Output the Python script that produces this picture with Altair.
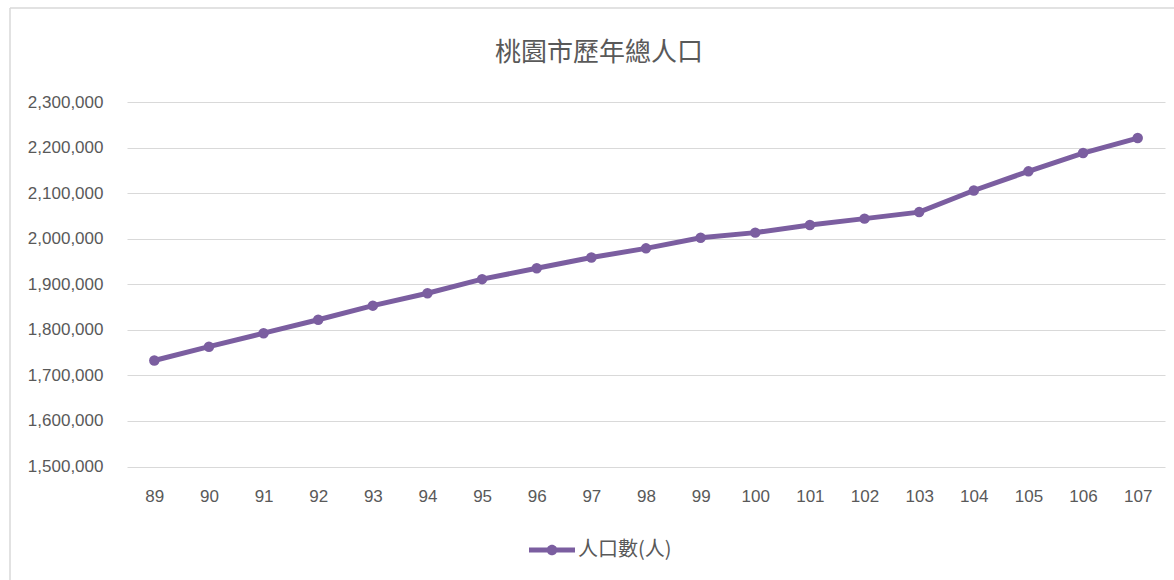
import altair as alt
import pandas as pd

years = ["89", "90", "91", "92", "93", "94", "95", "96", "97", "98",
         "99", "100", "101", "102", "103", "104", "105", "106", "107"]
population = [1732617, 1762963, 1792603, 1822075, 1853029, 1880316, 1911161,
              1934968, 1958686, 1978782, 2002060, 2013305, 2030161, 2044023,
              2058328, 2105780, 2147763, 2188017, 2220872]
series_name = "人口數(人)"
title_text = "桃園市歷年總人口"

df = pd.DataFrame({"year": years, "pop": population, "series": series_name})

PURPLE = "#7B5EA0"
GRAY = "#595959"
GRID = "#D9D9D9"
CJK = "Noto Sans CJK TC"
NUM = "Liberation Sans"

x = alt.X("year:N", sort=years, title=None,
          scale=alt.Scale(type="point", padding=0.5),
          axis=alt.Axis(labelAngle=0, labelFont=NUM, labelFontSize=17,
                        labelColor=GRAY, labelPadding=22, ticks=False,
                        tickSize=0, domain=False, grid=False))
y = alt.Y("pop:Q", title=None,
          scale=alt.Scale(domain=[1500000, 2300000], nice=False, zero=False),
          axis=alt.Axis(values=list(range(1500000, 2300001, 100000)), format=",d",
                        labelFont=NUM, labelFontSize=17, labelColor=GRAY,
                        labelPadding=24, ticks=False, tickSize=0, domain=False,
                        grid=True, gridColor=GRID, gridWidth=1))

legend_symbol = ("M-1,-0.11 L1,-0.11 L1,0.11 L-1,0.11 Z "
                 "M0.23,0 A0.23,0.23 0 1,1 -0.23,0 A0.23,0.23 0 1,1 0.23,0 Z")

base = alt.Chart(df)
line = base.mark_line(color=PURPLE, strokeWidth=5).encode(x=x, y=y)
points = base.mark_point(filled=True, size=110, opacity=1).encode(
    x=x, y=y,
    color=alt.Color("series:N", title=None,
                    scale=alt.Scale(range=[PURPLE]),
                    legend=alt.Legend(orient="none", legendX=402, legendY=425,
                                      symbolType=legend_symbol, symbolSize=2116,
                                      symbolStrokeWidth=0, symbolOpacity=1,
                                      labelFont=CJK, labelFontSize=20,
                                      labelColor=GRAY, labelOffset=3,
                                      padding=0)))

one = alt.Data(values=[{}])
frame_left = alt.Chart(one).mark_rule(color=GRID, strokeWidth=1.5).encode(
    x=alt.value(-117), y=alt.value(-94), y2=alt.value(700))
frame_top = alt.Chart(one).mark_rule(color=GRID, strokeWidth=1.5).encode(
    x=alt.value(-117), x2=alt.value(1200), y=alt.value(-94))

chart = alt.layer(frame_left, frame_top, line, points).properties(
    width=1038, height=364.5,
    background="white",
    autosize=alt.AutoSizeParams(type="none"),
    padding={"left": 127, "top": 102, "right": 9, "bottom": 113},
    title=alt.TitleParams(title_text, font=CJK, fontSize=26, fontWeight="normal",
                          color=GRAY, anchor="middle", dx=-47, offset=0, dy=72,
                          baseline="middle"),
).configure_view(stroke="transparent", strokeWidth=0)

chart.save("out.html", embed_options={"renderer": "svg", "actions": False})
